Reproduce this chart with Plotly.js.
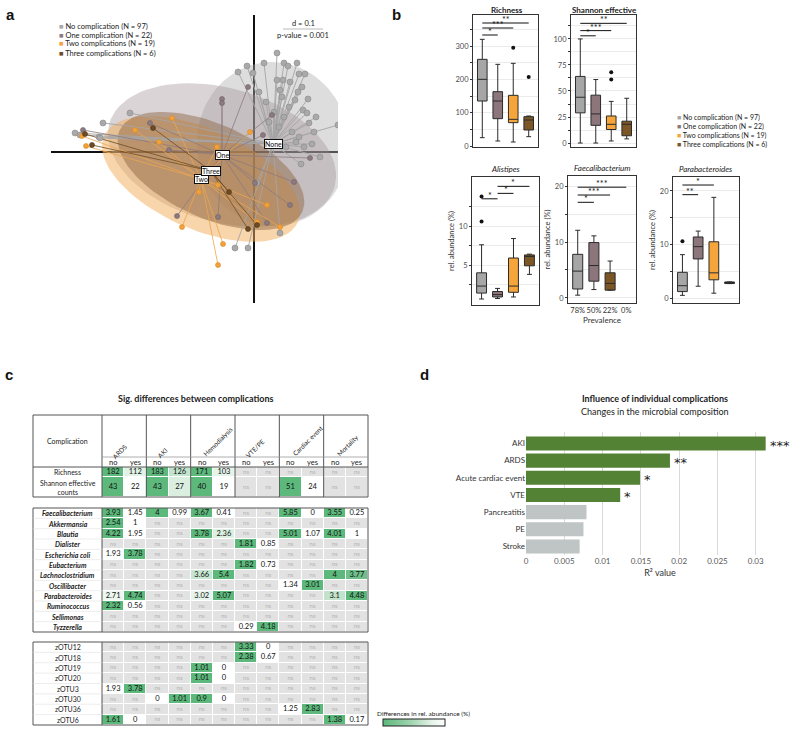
<!DOCTYPE html>
<html><head><meta charset="utf-8">
<script src="https://cdn.plot.ly/plotly-3.0.1.min.js"></script>
<style>html,body{margin:0;padding:0;background:#fff}#chart{width:800px;height:735px}</style>
</head><body><div id="chart"></div>
<script>
// ================= DATA =================
// ---- Panel a (ordination) ----
const groupNames = ['No complication (N = 97)','One complication (N = 22)','Two complications (N = 19)','Three complications (N = 6)'];
const groupShort = ['None','One','Two','Three'];
const noneX = [0.23,0.10,0.30,0.43,-0.07,-0.16,0.34,0.45,0.51,-0.01,0.29,0.23,0.48,0.44,0.54,0.49,0.53,0.55,0.26,0.41,0.84,0.47,0.42,0.35,0.30,0.20,0.38,0.25,0.15,0.45,0.32,0.50,0.60,0.12,0.05,-1.79,-1.51,-1.55,-1.74,-1.24,-1.54,-0.19,-0.06,0.03,0.26,0.58,0.66,0.62,0.36,0.28];
const noneY = [0.99,0.89,0.89,0.89,0.86,0.80,0.86,0.78,0.78,0.79,0.72,0.72,0.65,0.60,0.53,0.42,0.39,0.29,0.62,0.52,0.27,-0.12,0.10,0.45,0.35,0.40,0.20,0.25,0.30,0.15,0.05,0.05,0.20,0.50,0.60,0.19,0.29,0.15,0.17,0.39,0.14,-0.96,-0.96,-0.31,-0.81,0.08,-0.05,0.35,0.70,0.55];
const oneX = [-0.32,-0.32,-0.06,-1.04,-1.71,-0.77,-0.36,0.13,0.56,0.36,0.09,0.01,0.18,-0.85,0.40];
const oneY = [0.53,0.49,0.65,0.29,0.22,-0.64,-0.65,-0.71,-0.06,-0.53,0.17,-0.31,0.37,0.02,-0.30];
const twoX = [-0.72,-0.31,-0.36,-0.82,-1.68,-1.72,0.13,-0.04,-0.36,-0.37,-1.19,0.03,0.26,-0.55,-0.95];
const twoY = [-0.75,-0.92,-1.13,0.34,0.06,0.16,-0.53,0.20,-0.33,0.05,0.22,-0.70,-0.75,-0.40,0.10];
const threeX = [-1.62,-1.01,-1.69,-0.06,0.03,-0.25];
const threeY = [0.07,0.24,0.18,-0.77,-0.73,-0.40];
const centroidX = [0.19,-0.32,-0.53,-0.43];
const centroidY = [0.08,-0.03,-0.27,-0.19];
const ellA = [0.82,1.17,1.06,1.00];
const ellB = [0.76,0.67,0.50,0.47];
const ellAngle = [95,-15.6,-24,-24];

// ---- Panel b (box plots) ----
const richQ1=[135,82,70,48], richMed=[200,135,80,78], richQ3=[260,163,152,88], richLo=[25,15,12,28], richHi=[320,245,248,90];
const richOutX=[3,4], richOutY=[295,207];
const richSigFrom=[1,1,1], richSigTo=[2,3,4], richSigY=[333,354,369], richSigLab=['*','***','**'];

const shanQ1=[29,17,13,7], shanMed=[44,28,18,18], shanQ3=[64,46,26,21], shanLo=[0,0,2,4], shanHi=[100,61,40,43];
const shanOutX=[3,3], shanOutY=[61,68];
const shanSigFrom=[1,1,1], shanSigTo=[2,3,4], shanSigY=[103,108,115], shanSigLab=['*','***','**'];

const aliQ1=[1.4,0.9,1.5,4.9], aliMed=[2.3,1.2,2.3,6.1], aliQ3=[4.0,1.6,5.9,6.3], aliLo=[0.64,0.7,0.9,3.8], aliHi=[7.6,2.0,8.4,6.4];
const aliOutX=[1,1], aliOutY=[10.6,13.8];
const aliSigFrom=[1,2,2], aliSigTo=[2,3,4], aliSigY=[13.5,14.2,15.1], aliSigLab=['*','*','*'];

const faeGroups=[0,1,3], faePos=[1,2,3];
const faeQ1=[1.6,3.0,1.4], faeMed=[4.8,5.8,2.6], faeQ3=[7.8,9.9,4.5], faeLo=[0.5,1.5,1.4], faeHi=[12.1,11.1,6.6];
const faeOutX=[], faeOutY=[];
const faeSigFrom=[1,1,1], faeSigTo=[2,3,4], faeSigY=[17.1,18.4,19.8], faeSigLab=['*','***','***'];
const prevalenceLabels=['78%','50%','22%','0%'];

const parQ1=[1.2,7.3,3.4,2.7], parMed=[2.3,9.6,4.7,2.9], parQ3=[4.8,11.4,10.5,3.0], parLo=[0.5,2.2,0.9,2.7], parHi=[8.1,12.5,18.8,3.0];
const parOutX=[1], parOutY=[10.6];
const parSigFrom=[1,1], parSigTo=[2,3], parSigY=[19.3,21.1], parSigLab=['**','*'];

// ---- Panel c (table) ----
const complications=['ARDS','AKI','Hemodialysis','VTE/PE','Cardiac event','Mortality'];
const subCols=['no','yes'];
const divRows=['Richness','Shannon effective<br>counts'];
const divVals=[
 [182,112,183,126,171,103,null,null,null,null,null,null],
 [43,22,43,27,40,19,null,null,51,24,null,null]];
const genusRows=['Faecalibacterium','Akkermansia','Blautia','Dialister','Escherichia coli','Eubacterium','Lachnoclostridium','Oscillibacter','Parabacteroides','Ruminococcus','Sellimonas','Tyzzerella'];
const genusVals=[
 [3.93,1.45,4,0.99,3.67,0.41,null,null,5.85,0,3.55,0.25],
 [2.54,1,null,null,null,null,null,null,null,null,null,null],
 [4.22,1.95,null,null,3.78,2.36,null,null,5.01,1.07,4.01,1],
 [null,null,null,null,null,null,1.81,0.85,null,null,null,null],
 [1.93,3.78,null,null,null,null,null,null,null,null,null,null],
 [null,null,null,null,null,null,1.82,0.73,null,null,null,null],
 [null,null,null,null,3.66,5.4,null,null,null,null,4,3.77],
 [null,null,null,null,null,null,null,null,1.34,3.01,null,null],
 [2.71,4.74,null,null,3.02,5.07,null,null,null,null,3.1,4.48],
 [2.32,0.56,null,null,null,null,null,null,null,null,null,null],
 [null,null,null,null,null,null,null,null,null,null,null,null],
 [null,null,null,null,null,null,0.29,4.18,null,null,null,null]];
const otuRows=['zOTU12','zOTU18','zOTU19','zOTU20','zOTU3','zOTU30','zOTU36','zOTU6'];
const otuVals=[
 [null,null,null,null,null,null,3.33,0,null,null,null,null],
 [null,null,null,null,null,null,2.38,0.67,null,null,null,null],
 [null,null,null,null,1.01,0,null,null,null,null,null,null],
 [null,null,null,null,1.01,0,null,null,null,null,null,null],
 [1.93,3.78,null,null,null,null,null,null,null,null,null,null],
 [null,null,0,1.01,0.9,0,null,null,null,null,null,null],
 [null,null,null,null,null,null,null,null,1.25,2.83,null,null],
 [1.61,0,null,null,null,null,null,null,null,null,1.38,0.17]];

// ---- Panel d (bars) ----
const dCats=['AKI','ARDS','Acute cardiac event','VTE','Pancreatitis','PE','Stroke'];
const dR2=[0.0313,0.0188,0.0149,0.0123,0.0079,0.0075,0.0070];
const dSig=['***','**','*','*','','',''];

// ================= STYLE / LAYOUT =================
const W=800,H=735;
const px=v=>v/W, py=v=>1-v/H;
const FONT='Lato, "Open Sans", sans-serif';
const traces=[], annotations=[], shapes=[];
const layout={width:W,height:H,margin:{l:0,r:0,t:0,b:0},paper_bgcolor:'#fff',plot_bgcolor:'#fff',
  showlegend:false,boxmode:'overlay',font:{family:FONT,color:'#222',size:8}};
const groupColors=['#a9a9a9','#8c7a80','#f2a23a','#6e4b22'];
const groupEdge=['#8a8a8a','#6f5f64','#d98a25','#4e3416'];
const ellFill=['rgba(175,175,175,0.42)','rgba(160,142,150,0.38)','rgba(242,172,85,0.5)','rgba(135,95,60,0.45)'];
const spokeCol=['rgba(165,165,165,0.9)','rgba(140,122,128,0.8)','rgba(235,165,80,0.8)','rgba(110,75,34,0.8)'];
const boxColors=['#a6a6a6','#8d767b','#f5a53a','#7d5626'];

function ann(o){annotations.push(Object.assign({showarrow:false,xanchor:'center',yanchor:'middle',font:{family:FONT,size:8,color:'#222'}},o));}
// panel letters
[['a',10,14],['b',396,14],['c',9,374],['d',424,374]].forEach(l=>ann({xref:'paper',yref:'paper',x:px(l[1]),y:py(l[2]),text:'<b>'+l[0]+'</b>',font:{family:'Arial, Liberation Sans, sans-serif',size:15,color:'#111'}}));

// ---------- Panel a ----------
const axA={showgrid:false,zeroline:true,zerolinecolor:'#111',zerolinewidth:1.2,showticklabels:false,ticks:'',showline:false};
layout.xaxis=Object.assign({domain:[px(51),px(338)],range:[-2.03,0.84],anchor:'y'},axA);
layout.yaxis=Object.assign({domain:[py(303),py(15)],range:[-1.51,1.37],anchor:'x'},axA);
const ptsX=[noneX,oneX,twoX,threeX], ptsY=[noneY,oneY,twoY,threeY];
for(let g=0;g<4;g++){
  const th=ellAngle[g]*Math.PI/180, ex=[], ey=[];
  for(let i=0;i<=90;i++){const t=i*2*Math.PI/90;
    ex.push(centroidX[g]+ellA[g]*Math.cos(t)*Math.cos(th)-ellB[g]*Math.sin(t)*Math.sin(th));
    ey.push(centroidY[g]+ellA[g]*Math.cos(t)*Math.sin(th)+ellB[g]*Math.sin(t)*Math.cos(th));}
  traces.push({type:'scatter',mode:'lines',x:ex,y:ey,fill:'toself',fillcolor:ellFill[g],line:{width:0,color:'rgba(0,0,0,0)'},xaxis:'x',yaxis:'y',hoverinfo:'skip'});
}
for(let g=0;g<4;g++){
  const sx=[],sy=[];
  ptsX[g].forEach((v,i)=>{sx.push(centroidX[g],v,null);sy.push(centroidY[g],ptsY[g][i],null);});
  traces.push({type:'scatter',mode:'lines',x:sx,y:sy,line:{color:spokeCol[g],width:1},xaxis:'x',yaxis:'y',hoverinfo:'skip'});
}
for(let g=0;g<4;g++){
  traces.push({type:'scatter',mode:'markers',x:ptsX[g],y:ptsY[g],marker:{size:g===0?6:5,color:groupColors[g],line:{color:groupEdge[g],width:0.6}},xaxis:'x',yaxis:'y',hoverinfo:'skip'});
}
groupShort.forEach((s,g)=>ann({xref:'x',yref:'y',x:centroidX[g],y:centroidY[g],text:s,bgcolor:'#fff',bordercolor:'#111',borderwidth:1,borderpad:0,font:{family:FONT,size:7,color:'#111'}}));
ann({xref:'paper',yref:'paper',x:px(303),y:py(24),text:'d = 0.1',font:{family:FONT,size:7.5,color:'#222'}});
ann({xref:'paper',yref:'paper',x:px(303),y:py(35),text:'p-value = 0.001',font:{family:FONT,size:7.5,color:'#222'}});
shapes.push({type:'line',xref:'paper',yref:'paper',x0:px(283),x1:px(323),y0:py(29),y1:py(29),line:{color:'#bbb',width:1}});
groupNames.forEach((n,g)=>ann({xref:'paper',yref:'paper',x:px(57),y:py(26+g*9),xanchor:'left',
  text:'<span style="color:'+groupColors[g]+'">■</span> '+n,font:{family:FONT,size:7.5,color:'#222'}}));

// ---------- Panel b ----------
function boxPanel(n,d){
  const xa='x'+n, ya='y'+n;
  d.groups.forEach((g,i)=>{
    traces.push({type:'box',xaxis:xa,yaxis:ya,x:[d.pos[i]],q1:[d.q1[i]],median:[d.med[i]],q3:[d.q3[i]],
      lowerfence:[d.lo[i]],upperfence:[d.hi[i]],fillcolor:boxColors[g],line:{color:'#2b2b2b',width:1},
      width:0.62,whiskerwidth:0.5,boxpoints:false,hoverinfo:'skip'});
  });
  if(d.outX.length) traces.push({type:'scatter',mode:'markers',xaxis:xa,yaxis:ya,x:d.outX,y:d.outY,marker:{color:'#111',size:4},hoverinfo:'skip'});
  d.sf.forEach((f,i)=>{
    shapes.push({type:'line',xref:xa,yref:ya,x0:f,x1:d.st[i],y0:d.sy[i],y1:d.sy[i],line:{color:'#111',width:1}});
    ann({xref:xa,yref:ya,x:(f+d.st[i])/2,y:d.sy[i],text:d.sl[i],yanchor:'bottom',yshift:-4,font:{family:FONT,size:9,color:'#111'}});
  });
}
function boxAxes(n,xd,yd,yr,vals,labels,extra){
  layout['xaxis'+n]=Object.assign({domain:[px(xd[0]),px(xd[1])],range:[0.4,4.6],anchor:'y'+n,showgrid:false,zeroline:false,
    showline:true,mirror:true,linecolor:'#333',linewidth:1,showticklabels:false,ticks:''},extra||{});
  layout['yaxis'+n]={domain:[py(yd[1]),py(yd[0])],range:yr,anchor:'x'+n,showgrid:true,gridcolor:'#ebebeb',gridwidth:1,zeroline:false,
    showline:true,mirror:true,linecolor:'#333',linewidth:1,tickmode:'array',tickvals:vals,ticktext:labels,ticks:'outside',ticklen:2,
    tickcolor:'#333',tickfont:{family:FONT,size:7.5,color:'#4d4d4d'}};
}
const four=[0,1,2,3], pos4=[1,2,3,4];
boxPanel(2,{groups:four,pos:pos4,q1:richQ1,med:richMed,q3:richQ3,lo:richLo,hi:richHi,outX:richOutX,outY:richOutY,sf:richSigFrom,st:richSigTo,sy:richSigY,sl:richSigLab});
boxAxes(2,[473,538],[15,147],[-3,393],[0,50,100,150,200,250,300,350],['0','','100','','200','','300','']);
boxPanel(3,{groups:four,pos:pos4,q1:shanQ1,med:shanMed,q3:shanQ3,lo:shanLo,hi:shanHi,outX:shanOutX,outY:shanOutY,sf:shanSigFrom,st:shanSigTo,sy:shanSigY,sl:shanSigLab});
boxAxes(3,[571,636],[15,147],[-3.8,123],[0,12.5,25,37.5,50,62.5,75,87.5,100,112.5],['0','','25','','50','','75','','100','']);
boxPanel(4,{groups:four,pos:pos4,q1:aliQ1,med:aliMed,q3:aliQ3,lo:aliLo,hi:aliHi,outX:aliOutX,outY:aliOutY,sf:aliSigFrom,st:aliSigTo,sy:aliSigY,sl:aliSigLab});
boxAxes(4,[472,539],[177,305],[-0.13,16.3],[2.5,5,7.5,10,12.5],['','5','','10','']);
boxPanel(5,{groups:faeGroups,pos:faePos,q1:faeQ1,med:faeMed,q3:faeQ3,lo:faeLo,hi:faeHi,outX:faeOutX,outY:faeOutY,sf:faeSigFrom,st:faeSigTo,sy:faeSigY,sl:faeSigLab});
boxAxes(5,[568,636],[176,303],[-0.9,21.8],[0,5,10,15,20],['0','','10','','20'],
  {showticklabels:true,tickmode:'array',tickvals:pos4,ticktext:prevalenceLabels,ticks:'',tickangle:0,tickfont:{family:FONT,size:7.5,color:'#333'},
   title:{text:'Prevalence',font:{family:FONT,size:8,color:'#333'},standoff:2}});
boxPanel(6,{groups:four,pos:pos4,q1:parQ1,med:parMed,q3:parQ3,lo:parLo,hi:parHi,outX:parOutX,outY:parOutY,sf:parSigFrom,st:parSigTo,sy:parSigY,sl:parSigLab});
boxAxes(6,[673,739],[177,303],[-0.93,22.6],[0,5,10,15,20],['0','','10','','20']);
[4,5,6].forEach(n=>layout['yaxis'+n].title={text:'rel. abundance (%)',font:{family:FONT,size:7.5,color:'#333'},standoff:3});
[['<b>Richness</b>',507,10],['<b>Shannon effective</b>',604,10],['<i>Alistipes</i>',506,169],['<i>Faecalibacterium</i>',602,168],['<i>Parabacteroides</i>',706,169]]
 .forEach(t=>ann({xref:'paper',yref:'paper',x:px(t[1]),y:py(t[2]),text:t[0],font:{family:FONT,size:8,color:'#222'}}));
groupNames.forEach((n,g)=>ann({xref:'paper',yref:'paper',x:px(675),y:py(117+g*9),xanchor:'left',
  text:'<span style="color:'+boxColors[g]+'">■</span> '+n,font:{family:FONT,size:7,color:'#222'}}));

// ---------- Panel d ----------
traces.push({type:'bar',orientation:'h',x:dR2,y:dCats,xaxis:'x7',yaxis:'y7',width:0.82,
  marker:{color:dSig.map(s=>s?'#548235':'#bfc4c4')},hoverinfo:'skip'});
layout.xaxis7={domain:[px(526),px(794)],range:[0,0.035],dtick:0.005,tick0:0,anchor:'y7',showgrid:true,gridcolor:'#d9d9d9',
  zeroline:false,showline:false,ticks:'',tickfont:{family:FONT,size:8,color:'#595959'},
  title:{text:'R² value',font:{family:FONT,size:9,color:'#333'},standoff:4}};
layout.yaxis7={domain:[py(555),py(432)],autorange:'reversed',type:'category',anchor:'x7',ticks:'',showgrid:false,
  tickfont:{family:FONT,size:8,color:'#333'}};
dSig.forEach((s,i)=>{ if(s) ann({xref:'x7',yref:'y7',x:dR2[i],y:dCats[i],text:s,xanchor:'left',xshift:2,yshift:-2,
  font:{family:'DejaVu Sans, sans-serif',size:13,color:'#222'}}); });
ann({xref:'paper',yref:'paper',x:px(655),y:py(399),text:'<b>Influence of individual complications</b>',font:{family:FONT,size:9,color:'#222'}});
ann({xref:'paper',yref:'paper',x:px(655),y:py(411),text:'Changes in the microbial composition',font:{family:FONT,size:9,color:'#222'}});

// ---------- Panel c (table) ----------
const tblL=33, tblDiv=102, tblR=368;
const b1Top=415, hdrLine=457, hdrBot=467, b1Edges=[467,477,497];
const b2Top=508, b2Bot=632, b3Top=642, b3Bot=725;
const rowsAll=[...divVals,null,...genusVals,null,...otuVals];
const labelsAll=[...divRows,null,...genusRows,null,...otuRows];
const edges=[...b1Edges];
for(let i=0;i<=genusRows.length;i++) edges.push(b2Top+i*(b2Bot-b2Top)/genusRows.length);
for(let i=0;i<=otuRows.length;i++) edges.push(b3Top+i*(b3Bot-b3Top)/otuRows.length);
const nCols=12, nullRow=Array(nCols).fill(null);
const zNs=[], zVal=[], tX=[], tY=[], tT=[], tC=[], tS=[];
rowsAll.forEach((row,r)=>{
  const cy=(edges[r]+edges[r+1])/2;
  if(!row){zNs.push(nullRow.slice());zVal.push(nullRow.slice());return;}
  const rn=[], rv=[];
  for(let c=0;c<nCols;c++){
    const v=row[c];
    if(v===null){rn.push(1);rv.push(null);tX.push(c);tY.push(cy);tT.push('ns');tC.push('#b3b3b3');tS.push(6);}
    else{
      const pair=c%2===0?[v,row[c+1]]:[row[c-1],v];
      const mx=Math.max(pair[0],pair[1]);
      const shade=mx>0?Math.min(1,Math.max(0,(v/mx-0.5)/0.5)):0;
      rn.push(null);rv.push(1-shade);tX.push(c);tY.push(cy);tT.push(String(v));tC.push('#111');tS.push(7.5);
    }
  }
  zNs.push(rn);zVal.push(rv);
});
const colIdx=[...Array(nCols).keys()];
traces.push({type:'heatmap',x:colIdx,y:edges,z:zNs,xaxis:'x8',yaxis:'y8',colorscale:[[0,'#e2e2e2'],[1,'#e2e2e2']],
  showscale:false,xgap:1,ygap:1,hoverinfo:'skip'});
traces.push({type:'heatmap',x:colIdx,y:edges,z:zVal,xaxis:'x8',yaxis:'y8',zmin:0,zmax:1,
  colorscale:[[0,'#5db87b'],[0.45,'#9fd4b0'],[0.8,'#e6f4ea'],[1,'#ffffff']],xgap:1,ygap:1,hoverinfo:'skip',
  showscale:true,colorbar:{orientation:'h',x:px(414),xanchor:'center',y:py(727),yanchor:'bottom',len:62,lenmode:'pixels',
    thickness:7,thicknessmode:'pixels',xpad:0,ypad:0,showticklabels:false,ticks:'',outlinecolor:'#222',outlinewidth:1}});
ann({xref:'paper',yref:'paper',x:px(375),y:py(713),xanchor:'left',text:'Differences in rel. abundance (%)',font:{family:FONT,size:6.5,color:'#222'}});
traces.push({type:'scatter',mode:'text',x:tX,y:tY,text:tT,textfont:{family:FONT,color:tC,size:tS},xaxis:'x8',yaxis:'y8',hoverinfo:'skip',cliponaxis:false});
layout.xaxis8={domain:[px(tblDiv),px(tblR)],range:[-0.5,11.5],anchor:'y8',visible:false};
layout.yaxis8={domain:[py(729),py(411)],range:[729,411],anchor:'x8',visible:false};
labelsAll.forEach((l,r)=>{ if(!l) return;
  const cy=(edges[r]+edges[r+1])/2;
  const isGenus=genusRows.includes(l);
  ann({xref:'paper',yref:'y8',x:px((tblL+tblDiv)/2),y:cy,text:isGenus?'<b><i>'+l+'</i></b>':l,
    font:{family:FONT,size:7,color:'#222'}});
});
ann({xref:'paper',yref:'y8',x:px((tblL+tblDiv)/2),y:441,text:'Complication',font:{family:FONT,size:7,color:'#222'}});
const colW=(tblR-tblDiv)/nCols;
for(let c=0;c<nCols;c++) ann({xref:'x8',yref:'y8',x:c,y:(hdrLine+hdrBot)/2,text:subCols[c%2],font:{family:FONT,size:7.5,color:'#222'}});
complications.forEach((n,g)=>{
  const L=n.length*3.4, left=tblDiv+2*g*colW;
  ann({xref:'paper',yref:'y8',x:px(left+13+0.354*L),y:456-0.354*L,text:n,textangle:-45,font:{family:FONT,size:6.5,color:'#222'}});
});
const bc='#555';
function rect(y0,y1){shapes.push({type:'rect',xref:'paper',yref:'y8',x0:px(tblL),x1:px(tblR),y0:y0,y1:y1,line:{color:bc,width:1}});
  shapes.push({type:'line',xref:'paper',yref:'y8',x0:px(tblDiv),x1:px(tblDiv),y0:y0,y1:y1,line:{color:bc,width:1}});}
rect(b1Top,b1Edges[2]); rect(b2Top,b2Bot); rect(b3Top,b3Bot);
for(let g=1;g<complications.length;g++) shapes.push({type:'line',xref:'x8',yref:'y8',x0:2*g-0.5,x1:2*g-0.5,y0:b1Top,y1:b1Edges[2],line:{color:bc,width:1}});
shapes.push({type:'line',xref:'paper',yref:'y8',x0:px(tblDiv),x1:px(tblR),y0:hdrLine,y1:hdrLine,line:{color:'#999',width:0.8}});
shapes.push({type:'line',xref:'paper',yref:'y8',x0:px(tblL),x1:px(tblR),y0:hdrBot,y1:hdrBot,line:{color:bc,width:1}});
edges.forEach((e,i)=>{ if(i>3&&i<15||i>16&&i<24) shapes.push({type:'line',xref:'paper',yref:'y8',x0:px(tblL),x1:px(tblDiv),y0:e,y1:e,line:{color:'#e0e0e0',width:0.6}}); });
ann({xref:'paper',yref:'paper',x:px(196),y:py(399),text:'<b>Sig. differences between complications</b>',font:{family:FONT,size:9,color:'#222'}});

layout.annotations=annotations; layout.shapes=shapes;
Plotly.newPlot('chart',traces,layout,{displayModeBar:false,staticPlot:true});
</script></body></html>
